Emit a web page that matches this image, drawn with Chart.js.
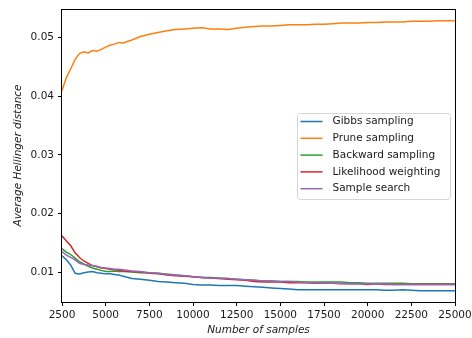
<!DOCTYPE html>
<html>
<head>
<meta charset="utf-8">
<script src="https://cdn.jsdelivr.net/npm/chart.js@4/dist/chart.umd.min.js"></script>
<style>
  html, body { margin: 0; padding: 0; background: #fff; }
  #wrap { width: 472px; height: 338px; }
</style>
</head>
<body>
<div id="wrap"><canvas id="chart" width="472" height="338"></canvas></div>
<script>
// number of samples (x positions shared by all runs)
var samples = [2500, 2750, 3000, 3250, 3500, 3750, 4000, 4250, 4500, 4750, 5000, 5250, 5500, 5750, 6000,
  6500, 7000, 7500, 8000, 8500, 9000, 9500, 10000, 10500, 11000, 11500, 12000, 12500, 13000, 13500,
  14000, 14500, 15000, 15500, 16000, 16500, 17000, 17500, 18000, 18500, 19000, 19500, 20000, 20500,
  21000, 21500, 22000, 22500, 23000, 23500, 24000, 24500, 25000];

var gibbs = [0.0128, 0.0121, 0.0112, 0.0098, 0.0097, 0.0099, 0.0100, 0.0101, 0.0099, 0.0098, 0.0097, 0.0097, 0.0096, 0.0095, 0.0093,
  0.0089, 0.0088, 0.0086, 0.0084, 0.0083, 0.0082, 0.0081, 0.0079, 0.0078, 0.0078, 0.0077, 0.0077, 0.0077, 0.0076, 0.0075,
  0.0074, 0.0073, 0.0072, 0.0071, 0.0070, 0.0070, 0.0070, 0.0070, 0.0070, 0.0070, 0.0070, 0.0070, 0.0070, 0.0070,
  0.0069, 0.0069, 0.0070, 0.0069, 0.0068, 0.0068, 0.0068, 0.0068, 0.0068];

var prune = [0.0410, 0.0432, 0.0447, 0.0463, 0.0473, 0.0476, 0.0474, 0.0478, 0.0477, 0.0480, 0.0484, 0.0487, 0.0489, 0.0492, 0.0491,
  0.0496, 0.0502, 0.0506, 0.0509, 0.0512, 0.0514, 0.0515, 0.0516, 0.0517, 0.0515, 0.0515, 0.0514, 0.0516, 0.0518, 0.0519,
  0.0520, 0.0520, 0.0521, 0.0522, 0.0522, 0.0522, 0.0523, 0.0523, 0.0524, 0.0525, 0.0525, 0.0525, 0.0526, 0.0526,
  0.0527, 0.0527, 0.0527, 0.0528, 0.0528, 0.0528, 0.0529, 0.0529, 0.0529];

var backward = [0.0140, 0.0134, 0.0130, 0.0124, 0.0118, 0.0114, 0.0110, 0.0107, 0.0105, 0.0103, 0.0101, 0.0101, 0.0102, 0.0101, 0.0101,
  0.0100, 0.0099, 0.0099, 0.0098, 0.0097, 0.0095, 0.0094, 0.0092, 0.0091, 0.0091, 0.0090, 0.0089, 0.0088, 0.0087, 0.0086,
  0.0085, 0.0085, 0.0084, 0.0084, 0.0084, 0.0083, 0.0083, 0.0083, 0.0083, 0.0083, 0.0082, 0.0082, 0.0081, 0.0081,
  0.0081, 0.0081, 0.0081, 0.0080, 0.0080, 0.0080, 0.0080, 0.0080, 0.0080];

var likelihood = [0.0162, 0.0153, 0.0145, 0.0133, 0.0125, 0.0119, 0.0115, 0.0111, 0.0109, 0.0107, 0.0106, 0.0105, 0.0104, 0.0103, 0.0102,
  0.0101, 0.0100, 0.0098, 0.0097, 0.0095, 0.0094, 0.0093, 0.0092, 0.0091, 0.0090, 0.0089, 0.0088, 0.0087, 0.0086, 0.0084,
  0.0083, 0.0083, 0.0083, 0.0082, 0.0082, 0.0082, 0.0081, 0.0081, 0.0081, 0.0080, 0.0080, 0.0080, 0.0079, 0.0080,
  0.0079, 0.0079, 0.0079, 0.0079, 0.0079, 0.0079, 0.0079, 0.0079, 0.0079];

var sampleSearch = [0.0135, 0.0129, 0.0125, 0.0121, 0.0115, 0.0113, 0.0112, 0.0111, 0.0110, 0.0108, 0.0107, 0.0106, 0.0105, 0.0105, 0.0104,
  0.0102, 0.0101, 0.0099, 0.0098, 0.0096, 0.0095, 0.0094, 0.0092, 0.0091, 0.0090, 0.0089, 0.0089, 0.0088, 0.0087, 0.0086,
  0.0085, 0.0085, 0.0084, 0.0084, 0.0083, 0.0082, 0.0082, 0.0081, 0.0081, 0.0081, 0.0080, 0.0080, 0.0080, 0.0080,
  0.0080, 0.0079, 0.0079, 0.0079, 0.0079, 0.0079, 0.0079, 0.0079, 0.0079];

var seriesNames = ["Gibbs sampling", "Prune sampling", "Backward sampling", "Likelihood weighting", "Sample search"];
var seriesValues = [gibbs, prune, backward, likelihood, sampleSearch];
var colors = ['#1f77b4', '#ff7f0e', '#2ca02c', '#d62728', '#9467bd'];

var xTicks = [2500, 5000, 7500, 10000, 12500, 15000, 17500, 20000, 22500, 25000];
var yTicks = [0.01, 0.02, 0.03, 0.04, 0.05];

var FONT = "'DejaVu Sans', sans-serif";
var TEXT = '#1a1a1a';
var FSIZE = 10.5;

var datasets = seriesValues.map(function (vals, i) {
  return {
    label: seriesNames[i],
    data: vals.map(function (v, j) { return { x: samples[j], y: v }; }),
    borderColor: colors[i],
    backgroundColor: colors[i],
    borderWidth: 1.5,
    pointRadius: 0,
    tension: 0,
    order: seriesValues.length - i
  };
});

// axes frame (all four spines) and the legend box on the right
var framePlugin = {
  id: 'frame',
  afterDatasetsDraw: function (chart) {
    var ctx = chart.ctx, a = chart.chartArea;
    ctx.save();
    ctx.strokeStyle = '#000';
    ctx.lineWidth = 1;
    ctx.strokeRect(Math.round(a.left) - 0.5, Math.round(a.top) + 0.5,
      Math.round(a.right - a.left) + 1, Math.round(a.bottom - a.top));

    var w = 153, h = 86, r = 3;
    var x0 = Math.round(a.right - 5 - w) + 0.5;
    var y0 = Math.round((a.top + a.bottom) / 2 - h / 2) + 0.5;
    ctx.beginPath();
    ctx.roundRect(x0, y0, w, h, r);
    ctx.fillStyle = 'rgba(255,255,255,0.8)';
    ctx.fill();
    ctx.strokeStyle = '#d6d6d6';
    ctx.stroke();

    ctx.font = FSIZE + 'px ' + FONT;
    ctx.textBaseline = 'middle';
    ctx.textAlign = 'left';
    chart.data.datasets.forEach(function (ds, i) {
      var yy = y0 + 8 + i * 16.8;
      ctx.beginPath();
      ctx.moveTo(x0 + 3, yy);
      ctx.lineTo(x0 + 25, yy);
      ctx.strokeStyle = ds.borderColor;
      ctx.lineWidth = 1.5;
      ctx.stroke();
      ctx.fillStyle = TEXT;
      ctx.fillText(ds.label, x0 + 35, yy);
    });
    ctx.restore();
  }
};

var canvas = document.getElementById('chart');
var context = canvas.getContext('2d');

var chart = new Chart(context, {
  type: 'line',
  data: { datasets: datasets },
  options: {
    responsive: false,
    animation: false,
    layout: { padding: { top: 9, right: 17, left: 0, bottom: 0 } },
    plugins: {
      legend: { display: false },
      tooltip: { enabled: false }
    },
    scales: {
      x: {
        type: 'linear',
        min: 2500,
        max: 25000,
        afterFit: function (s) {
          s.height = 36;
          s.paddingLeft = 0;
          s.paddingRight = 0;
        },
        afterBuildTicks: function (s) { s.ticks = xTicks.map(function (v) { return { value: v }; }); },
        border: { display: false },
        grid: { drawOnChartArea: false, drawTicks: true, tickLength: 4, color: '#000', tickColor: '#000' },
        ticks: {
          color: TEXT, font: { family: FONT, size: FSIZE }, padding: 3, maxRotation: 0,
          callback: function (v) { return String(v); }
        },
        title: {
          display: true, text: 'Number of samples', color: TEXT,
          font: { family: FONT, size: FSIZE, style: 'italic' }, padding: { top: 0, bottom: 1 }
        }
      },
      y: {
        min: 0.0049,
        max: 0.0549,
        afterFit: function (s) {
          s.width = 62;
          s.paddingTop = 0;
          s.paddingBottom = 0;
        },
        afterBuildTicks: function (s) { s.ticks = yTicks.map(function (v) { return { value: v }; }); },
        border: { display: false },
        grid: { drawOnChartArea: false, drawTicks: true, tickLength: 4, color: '#000', tickColor: '#000' },
        ticks: {
          color: TEXT, font: { family: FONT, size: FSIZE }, padding: 4,
          callback: function (v) { return v.toFixed(2); }
        },
        title: {
          display: true, text: 'Average Hellinger distance', color: TEXT,
          font: { family: FONT, size: FSIZE, style: 'italic' }, padding: { top: 12, bottom: 0 }
        }
      }
    }
  },
  plugins: [framePlugin]
});
</script>
</body>
</html>
